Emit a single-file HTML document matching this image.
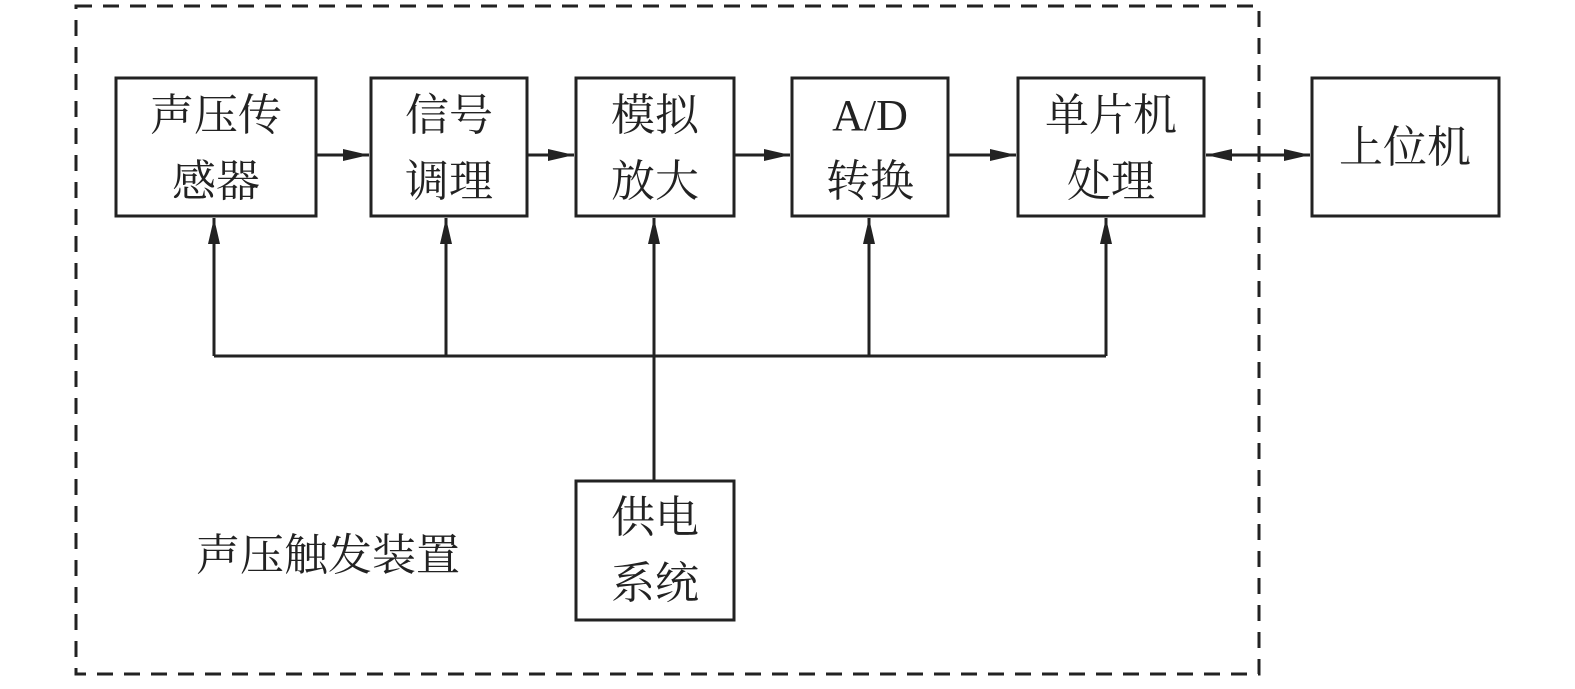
<!DOCTYPE html>
<html><head><meta charset="utf-8"><style>
body{margin:0;background:#fff;}
svg text{font-family:"Liberation Serif","Noto Serif CJK SC",serif;font-size:44px;fill:#222;text-anchor:middle;}
</style></head><body>
<svg width="1575" height="684" viewBox="0 0 1575 684" xmlns="http://www.w3.org/2000/svg">
<defs><marker id="a" markerWidth="12" markerHeight="10" refX="12" refY="5" orient="auto" markerUnits="userSpaceOnUse"><path d="M0,0 L26,5 L0,10z" fill="#222"/></marker>
<marker id="b" viewBox="0 0 26 12" markerWidth="26" markerHeight="12" refX="26" refY="6" orient="auto-start-reverse" markerUnits="userSpaceOnUse"><path d="M0,0 L26,6 L0,12z" fill="#222"/></marker></defs>
<g fill="none" stroke="#222" stroke-width="3">
<rect x="76" y="6" width="1183" height="668" stroke-dasharray="16,11"/>
<rect x="116" y="78" width="200" height="138"/>
<rect x="371" y="78" width="156" height="138"/>
<rect x="576" y="78" width="158" height="138"/>
<rect x="792" y="78" width="156" height="138"/>
<rect x="1018" y="78" width="186" height="138"/>
<rect x="1312" y="78" width="187" height="138"/>
<rect x="576" y="481" width="158" height="139"/>
<g marker-end="url(#b)">
<line x1="316" y1="155" x2="369" y2="155"/>
<line x1="527" y1="155" x2="574" y2="155"/>
<line x1="734" y1="155" x2="790" y2="155"/>
<line x1="948" y1="155" x2="1016" y2="155"/>
<line x1="214" y1="356" x2="214" y2="218"/>
<line x1="446" y1="356" x2="446" y2="218"/>
<line x1="654" y1="481" x2="654" y2="218"/>
<line x1="869" y1="356" x2="869" y2="218"/>
<line x1="1106" y1="356" x2="1106" y2="218"/>
</g>
<line x1="1206" y1="155" x2="1310" y2="155" marker-start="url(#b)" marker-end="url(#b)"/>
<line x1="214" y1="356" x2="1106" y2="356"/>
</g>
<text x="216" y="130">声压传</text><text x="216" y="196">感器</text>
<text x="449" y="130">信号</text><text x="449" y="196">调理</text>
<text x="655" y="130">模拟</text><text x="655" y="196">放大</text>
<text x="870" y="130">A/D</text><text x="870" y="196">转换</text>
<text x="1111" y="130">单片机</text><text x="1111" y="196">处理</text>
<text x="1405" y="162">上位机</text>
<text x="655" y="532">供电</text><text x="655" y="598">系统</text>
<text x="328" y="570">声压触发装置</text>
</svg>
</body></html>
